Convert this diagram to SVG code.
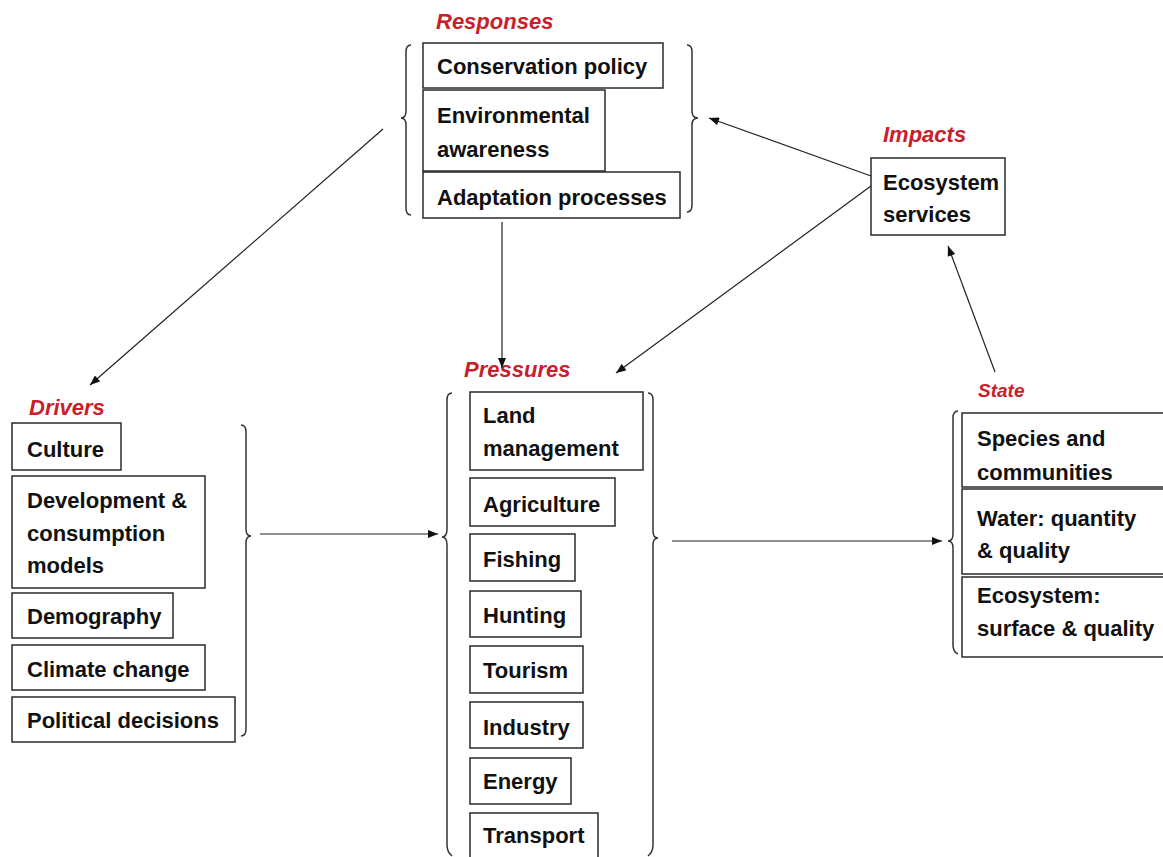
<svg xmlns="http://www.w3.org/2000/svg" width="1163" height="857" viewBox="0 0 1163 857">
<style>
.bg{fill:#ffffff}
.box{fill:#ffffff;stroke:#2a2a2a;stroke-width:1.5}
.t{font-family:"Liberation Sans",Arial,sans-serif;font-weight:bold;font-size:22px;fill:#111111}
.lbl{font-family:"Liberation Sans",Arial,sans-serif;font-weight:bold;font-style:italic;font-size:22px;fill:#c8202a}
.brace{fill:none;stroke:#333333;stroke-width:1.5}
.conn{fill:none;stroke:#222222;stroke-width:1.2;marker-end:url(#ah)}
</style>
<defs>
<marker id="ah" viewBox="0 0 10 8" refX="10" refY="4" markerWidth="11" markerHeight="8" markerUnits="userSpaceOnUse" orient="auto">
<path d="M0,0 L10,4 L0,8 Z" fill="#111111"/>
</marker>
</defs>
<rect class="bg" x="0" y="0" width="1163" height="857"/>

<g id="responses">
<text class="lbl" x="436" y="29">Responses</text>
<path class="brace" d="M411,45 Q406,45 406,52 L406,111 Q406,118 401,118 Q406,118 406,125 L406,208 Q406,215 411,215"/>
<path class="brace" d="M687,45 Q692,45 692,52 L692,111 Q692,118 698,118 Q692,118 692,125 L692,205 Q692,212 687,212"/>
<rect class="box" x="423" y="43" width="240" height="45"/>
<text class="t" x="437" y="74">Conservation policy</text>
<rect class="box" x="423" y="90" width="182" height="81"/>
<text class="t" x="437" y="123">Environmental</text>
<text class="t" x="437" y="157">awareness</text>
<rect class="box" x="423" y="172" width="257" height="46"/>
<text class="t" x="437" y="205">Adaptation processes</text>
</g>

<g id="impacts">
<text class="lbl" x="883" y="142">Impacts</text>
<rect class="box" x="871" y="158" width="134" height="77"/>
<text class="t" x="883" y="190">Ecosystem</text>
<text class="t" x="883" y="222">services</text>
</g>

<g id="drivers">
<text class="lbl" x="29" y="415">Drivers</text>
<path class="brace" d="M241,425 Q246,425 246,432 L246,529 Q246,536 251,536 Q246,536 246,543 L246,729 Q246,736 241,736"/>
<rect class="box" x="12" y="423" width="109" height="47"/>
<text class="t" x="27" y="457">Culture</text>
<rect class="box" x="12" y="476" width="193" height="112"/>
<text class="t" x="27" y="508">Development &amp;</text>
<text class="t" x="27" y="541">consumption</text>
<text class="t" x="27" y="573">models</text>
<rect class="box" x="12" y="593" width="161" height="45"/>
<text class="t" x="27" y="624">Demography</text>
<rect class="box" x="12" y="645" width="193" height="45"/>
<text class="t" x="27" y="677">Climate change</text>
<rect class="box" x="12" y="697" width="223" height="45"/>
<text class="t" x="27" y="728">Political decisions</text>
</g>

<g id="pressures">
<text class="lbl" x="464" y="377">Pressures</text>
<path class="brace" d="M452,393 Q447,393 447,400 L447,529 Q447,537 442,537 Q447,537 447,545 L447,845 Q447,852 452,856"/>
<path class="brace" d="M648,393 Q653,393 653,400 L653,531 Q653,538 658,538 Q653,538 653,545 L653,845 Q653,852 648,856"/>
<rect class="box" x="470" y="392" width="173" height="78"/>
<text class="t" x="483" y="423">Land</text>
<text class="t" x="483" y="456">management</text>
<rect class="box" x="470" y="478" width="145" height="48"/>
<text class="t" x="483" y="512">Agriculture</text>
<rect class="box" x="470" y="534" width="105" height="47"/>
<text class="t" x="483" y="567">Fishing</text>
<rect class="box" x="470" y="591" width="111" height="46"/>
<text class="t" x="483" y="623">Hunting</text>
<rect class="box" x="470" y="646" width="113" height="47"/>
<text class="t" x="483" y="678">Tourism</text>
<rect class="box" x="470" y="702" width="113" height="46"/>
<text class="t" x="483" y="735">Industry</text>
<rect class="box" x="470" y="758" width="101" height="46"/>
<text class="t" x="483" y="789">Energy</text>
<rect class="box" x="470" y="813" width="128" height="60"/>
<text class="t" x="483" y="843">Transport</text>
</g>

<g id="state">
<text class="lbl" x="978" y="397" style="font-size:19px">State</text>
<path class="brace" d="M958,411 Q953,411 953,418 L953,534 Q953,541 948,541 Q953,541 953,548 L953,645 Q953,652 958,654"/>
<rect class="box" x="962" y="413" width="210" height="74"/>
<text class="t" x="977" y="446">Species and</text>
<text class="t" x="977" y="480">communities</text>
<rect class="box" x="962" y="489" width="210" height="85"/>
<text class="t" x="977" y="526">Water: quantity</text>
<text class="t" x="977" y="558">&amp; quality</text>
<rect class="box" x="962" y="577" width="210" height="80"/>
<text class="t" x="977" y="603">Ecosystem:</text>
<text class="t" x="977" y="636">surface &amp; quality</text>
</g>

<g id="connectors">
<line class="conn" x1="871" y1="176" x2="709" y2="118"/>
<line class="conn" x1="871" y1="186" x2="616" y2="373"/>
<line class="conn" x1="995" y1="372" x2="948" y2="246"/>
<line class="conn" x1="383" y1="129" x2="90" y2="385"/>
<line class="conn" x1="502" y1="222" x2="502" y2="368"/>
<line class="conn" x1="260" y1="534" x2="438" y2="534"/>
<line class="conn" x1="672" y1="541" x2="942" y2="541"/>
</g>
</svg>
